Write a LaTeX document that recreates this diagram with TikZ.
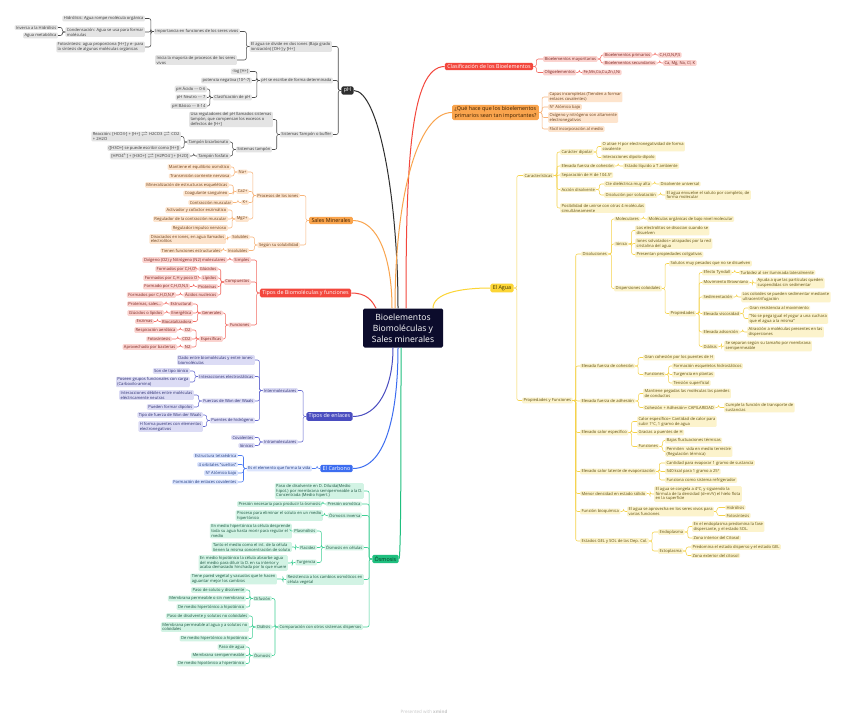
\documentclass[tikz,border=0pt]{standalone}
\usepackage{fontspec}
\setmainfont{Open Sans}
\newcommand\fs{\fontsize{4.1}{4.9}\selectfont}
\newcommand\mfs{\fontsize{5.4}{6.4}\selectfont}
\newcommand\cfs{\fontsize{8.6}{11}\selectfont}
\newcommand\eqv{$\rightleftharpoons$}
\definecolor{centerC}{HTML}{0C0C2C}
\definecolor{phM}{HTML}{2E2E2E}\definecolor{phF}{HTML}{E4E4E4}\definecolor{phT}{HTML}{3A3A3A}\definecolor{phL}{HTML}{4A4A4A}
\definecolor{orM}{HTML}{F9A44D}\definecolor{orF}{HTML}{FDE4CD}\definecolor{orT}{HTML}{6A3F1A}\definecolor{orL}{HTML}{F7B47A}\definecolor{orMT}{HTML}{3B1F00}
\definecolor{reM}{HTML}{F3473D}\definecolor{reF}{HTML}{FBD3CF}\definecolor{reT}{HTML}{7A2520}\definecolor{reL}{HTML}{F26A62}
\definecolor{inM}{HTML}{4A4DC0}\definecolor{inF}{HTML}{DCDCF5}\definecolor{inT}{HTML}{2B2D70}\definecolor{inL}{HTML}{6266CF}
\definecolor{blM}{HTML}{3C6DF0}\definecolor{blF}{HTML}{DBE4FD}\definecolor{blT}{HTML}{1F3A80}\definecolor{blL}{HTML}{4C7BF2}
\definecolor{grM}{HTML}{1FBF7F}\definecolor{grF}{HTML}{D2F3E4}\definecolor{grT}{HTML}{1A5540}\definecolor{grL}{HTML}{3FCF95}\definecolor{grMT}{HTML}{063A22}
\definecolor{yeM}{HTML}{FCD535}\definecolor{yeF}{HTML}{FCF3CC}\definecolor{yeT}{HTML}{5E4E10}\definecolor{yeL}{HTML}{F5D24A}\definecolor{yeMT}{HTML}{3B3000}
\colorlet{lfill}{phF}\colorlet{ltext}{phT}\colorlet{lline}{phL}
\newcommand\lnkL[2]{\foreach \ch in {#2}{\draw[ln] (#1.west) -- ++(-3,0) |- (\ch.east);}}
\newcommand\lnkR[2]{\foreach \ch in {#2}{\draw[ln] (#1.east) -- ++(3,0) |- (\ch.west);}}
\tikzset{
 lf/.style={fill=lfill, text=ltext, rounded corners=1.2pt, inner xsep=1.4pt, inner ysep=0.9pt, font=\fs, align=left},
 L/.style={lf, anchor=east},
 R/.style={lf, anchor=west},
 ln/.style={draw=lline, line width=0.55pt, rounded corners=2pt},
 mn/.style={rounded corners=1.5pt, font=\mfs, inner xsep=2.4pt, inner ysep=1.6pt, align=left},
 br/.style={line width=1pt}
}
\begin{document}
\begin{tikzpicture}[x=1pt,y=-1pt]
\useasboundingbox (0,0) rectangle (848,720);
\fill[white] (0,0) rectangle (848,720);
\node[fill=centerC, text=white, rounded corners=1.5pt, font=\cfs, align=center, minimum width=80pt, minimum height=39pt, inner sep=1pt] (C) at (403,328) {Bioelementos\\Biomoléculas y\\Sales minerales};

% ---------- pH ----------
\begin{scope}
\colorlet{lfill}{phF}\colorlet{ltext}{phT}\colorlet{lline}{phL}
\node[mn, fill=phM, text=white] (pH) at (347.5,90.5) {pH};
\node[L] (pA) at (332,46.5) {El agua se divide en dos iones (Baja grado\\ionización) [OH-] y [H+]};
\node[L] (pA1) at (240,31.5) {Importancia en funciones de los seres vivos};
\node[L] (pA11) at (145,18.5) {Hidrólisis: Agua rompe molécula orgánica};
\node[L] (pA12) at (145,32) {Condensación: Agua se usa para formar\\moléculas};
\node[L] (pA121) at (58,27.5) {Inversa a la Hidrólisis};
\node[L] (pA122) at (58,35.5) {Agua metabólica};
\node[L] (pA13) at (145,47) {Fotosíntesis: agua proporciona [H+] y e- para\\la síntesis de algunas moléculas orgánicas};
\node[L] (pA2) at (237,60) {Inicia la mayoría de procesos de los seres\\vivos};
\node[L] (pB) at (333,80.5) {pH se escribe de forma determinada};
\node[L] (pB1) at (250,71.5) {-log [H+]};
\node[L] (pB2) at (252,80.5) {potencia negativa (10\textasciicircum-7)};
\node[L] (pB3) at (252,97.5) {Clasificación de pH};
\node[L] (pB31) at (207,89) {pH Ácido {-}{-}{-} 0-6};
\node[L] (pB32) at (207,97.5) {pH Neutro {-}{-}{-} 7};
\node[L] (pB33) at (207,106) {pH Básico {-}{-}{-} 8-14};
\node[L] (pC) at (333,134.5) {Sistemas Tampón o buffer};
\node[L] (pC1) at (273,119.5) {Usa reguladores del pH llamados sistemas\\tampón, que compensan los excesos o\\defectos de [H+]};
\node[L] (pC2) at (272,149.5) {Sistemas tampón};
\node[L] (pC21) at (230,142) {Tampón bicarbonato};
\node[L] (pC211) at (181,136.5) {Reacción: [HCO3-] + [H+] \eqv{} H2CO3 \eqv{} CO2\\+ 2H2O};
\node[L] (pC212) at (181,148) {([H3O+] se puede escribir como [H+])};
\node[L] (pC22) at (230,156) {Tampón fosfato};
\node[L] (pC221) at (190,156) {[HPO4\textsuperscript{2-}] + [H3O+] \eqv{} [H2PO4\textsuperscript{-}] + [H2O]};
\lnkL{pH}{pA,pB,pC}
\lnkL{pA}{pA1,pA2}
\lnkL{pA1}{pA11,pA12,pA13}
\lnkL{pA12}{pA121,pA122}
\lnkL{pB}{pB1,pB2,pB3}
\lnkL{pB3}{pB31,pB32,pB33}
\lnkL{pC}{pC1,pC2}
\lnkL{pC2}{pC21,pC22}
\lnkL{pC21}{pC211,pC212}
\lnkL{pC22}{pC221}
\draw[br, draw=phM] (pH.east) .. controls +(25,0) and +(0,-110) .. ([xshift=-5]C.north);
\end{scope}

% ---------- Sales minerales ----------
\begin{scope}
\colorlet{lfill}{orF}\colorlet{ltext}{orT}\colorlet{lline}{orL}
\node[mn, fill=orM, text=orMT] (S) at (331,220.5) {Sales Minerales};
\node[L] (S1) at (300,195.5) {Procesos de los iones};
\node[L] (S11) at (248,172) {Na+};
\node[L] (S111) at (231,167) {Mantiene el equilibrio osmótico};
\node[L] (S112) at (231,176) {Transmisión corriente nerviosa};
\node[L] (S12) at (249,191.5) {Ca2+};
\node[L] (S121) at (229,185) {Mineralización de estructuras esqueléticas};
\node[L] (S122) at (229,193.5) {Coagulante sanguíneo};
\node[L] (S13) at (249,202.5) {K+};
\node[L] (S131) at (233,202.5) {Contracción muscular};
\node[L] (S14) at (249,219) {Mg2+};
\node[L] (S141) at (228,210) {Activador y cofactor enzimático};
\node[L] (S142) at (228,219) {Regulador de la contracción muscular};
\node[L] (S143) at (228,228) {Regulador impulso nervioso};
\node[L] (S2) at (300,245) {Según su solubilidad};
\node[L] (S21) at (250,237) {Solubles};
\node[L] (S211) at (226,239) {Disociados en iones, en agua llamados\\electrolitos};
\node[L] (S22) at (249,250.5) {Insolubles};
\node[L] (S221) at (222,250.5) {Tienen funciones estructurales};
\lnkL{S}{S1,S2}
\lnkL{S1}{S11,S12,S13,S14}
\lnkL{S11}{S111,S112}
\lnkL{S12}{S121,S122}
\lnkL{S13}{S131}
\lnkL{S14}{S141,S142,S143}
\lnkL{S2}{S21,S22}
\lnkL{S21}{S211}
\lnkL{S22}{S221}
\draw[br, draw=orM] (S.east) .. controls +(25,0) and +(0,-50) .. ([xshift=-11]C.north);
\end{scope}

% ---------- Tipos de biomoleculas ----------
\begin{scope}
\colorlet{lfill}{reF}\colorlet{ltext}{reT}\colorlet{lline}{reL}
\node[mn, fill=reM, text=white] (T) at (305.5,293) {Tipos de Biomoléculas y funciones};
\node[L] (T1) at (251,260) {Simples};
\node[L] (T11) at (227,260) {Oxígeno (O2) y Nitrógeno (N2) moleculares};
\node[L] (T2) at (251,282) {Compuestos};
\node[L] (T21) at (218,269) {Glúcidos};
\node[L] (T211) at (197,269) {Formados por C,H,O};
\node[L] (T22) at (218,278) {Lípidos};
\node[L] (T221) at (199,278) {Formados por C,H y poco O};
\node[L] (T23) at (218,286.5) {Proteínas};
\node[L] (T231) at (190,286.5) {Formado por C,H,O,N,S};
\node[L] (T24) at (218,295) {Ácidos nucleicos};
\node[L] (T241) at (176,295) {Formados por C,H,O,N,P};
\node[L] (T3) at (251,325) {Funciones};
\node[L] (T31) at (223,313) {Generales};
\node[L] (T311) at (193,304) {Estructural};
\node[L] (T3111) at (163,304) {Proteínas, sales...};
\node[L] (T312) at (193,313) {Energética};
\node[L] (T3121) at (164,313) {Glúcidos o lípidos};
\node[L] (T313) at (193,321.5) {Biocatalizadora};
\node[L] (T3131) at (154,321.5) {Enzimas};
\node[L] (T32) at (223,339) {Específicas};
\node[L] (T321) at (192,330) {O2};
\node[L] (T3211) at (177,330) {Respiración aeróbica};
\node[L] (T322) at (192,339) {CO2};
\node[L] (T3221) at (172,339) {Fotosíntesis};
\node[L] (T323) at (192,347) {N2};
\node[L] (T3231) at (177,347) {Aprovechado por bacterias};
\lnkL{T}{T1,T2,T3}
\lnkL{T1}{T11}
\lnkL{T2}{T21,T22,T23,T24}
\lnkL{T21}{T211}\lnkL{T22}{T221}\lnkL{T23}{T231}\lnkL{T24}{T241}
\lnkL{T3}{T31,T32}
\lnkL{T31}{T311,T312,T313}
\lnkL{T311}{T3111}\lnkL{T312}{T3121}\lnkL{T313}{T3131}
\lnkL{T32}{T321,T322,T323}
\lnkL{T321}{T3211}\lnkL{T322}{T3221}\lnkL{T323}{T3231}
\draw[br, draw=reM] (T.east) .. controls +(15,0) and +(-4,-8) .. ([xshift=-27]C.north);
\end{scope}

% ---------- Tipos de enlaces ----------
\begin{scope}
\colorlet{lfill}{inF}\colorlet{ltext}{inT}\colorlet{lline}{inL}
\node[mn, fill=inM, text=white] (E) at (329.5,416.5) {Tipos de enlaces};
\node[L] (E1) at (298,390.5) {Intermoleculares};
\node[L] (E11) at (255,360) {Dado entre biomoléculas y entre iones-\\biomoléculas};
\node[L] (E12) at (255,376.5) {Interacciones electrostáticas};
\node[L] (E121) at (190,371) {Son de tipo iónico};
\node[L] (E122) at (190,382) {Poseen grupos funcionales con carga\\(Carboxilo-amino)};
\node[L] (E13) at (255,401) {Fuerzas de Wan der Waals};
\node[L] (E131) at (194,395) {Interacciones débiles entre moléculas\\eléctricamente neutras};
\node[L] (E132) at (194,407) {Pueden formar dipolos};
\node[L] (E14) at (255,420.5) {Puentes de hidrógeno};
\node[L] (E141) at (203,415) {Tipo de fuerza de Wan der Waals};
\node[L] (E142) at (203,426.5) {H forma puentes con elementos\\electronegativos};
\node[L] (E2) at (298,442) {Intramoleculares};
\node[L] (E21) at (255,437.5) {Covalentes};
\node[L] (E22) at (255,445.5) {Iónicos};
\lnkL{E}{E1,E2}
\lnkL{E1}{E11,E12,E13,E14}
\lnkL{E12}{E121,E122}
\lnkL{E13}{E131,E132}
\lnkL{E14}{E141,E142}
\lnkL{E2}{E21,E22}
\draw[br, draw=inM] (E.east) .. controls +(25,0) and +(0,40) .. ([xshift=-10]C.south);
\end{scope}

% ---------- El Carbono ----------
\begin{scope}
\colorlet{lfill}{blF}\colorlet{ltext}{blT}\colorlet{lline}{blL}
\node[mn, fill=blM, text=white] (K) at (336.5,468.5) {El Carbono};
\node[L] (K1) at (312,468.5) {Es el elemento que forma la vida};
\node[L] (K11) at (238,455.5) {Estructura tetraédrica};
\node[L] (K12) at (238,464.5) {4 orbitales "sueltos"};
\node[L] (K13) at (238,473) {Nº Atómico bajo};
\node[L] (K14) at (238,482) {Formación de enlaces covalentes};
\lnkL{K}{K1}
\lnkL{K1}{K11,K12,K13,K14}
\draw[br, draw=blM] (K.east) .. controls +(35,0) and +(0,60) .. ([xshift=-5]C.south);
\end{scope}

% ---------- Osmosis ----------
\begin{scope}
\colorlet{lfill}{grF}\colorlet{ltext}{grT}\colorlet{lline}{grL}
\node[mn, fill=grM, text=grMT] (O) at (385.5,559) {Ósmosis};
\node[L] (O1) at (364,491) {Paso de disolvente en D. Diluida(Medio\\hipot.) por membrana semipermeable a la D.\\Concentrada (Medio hipert.)};
\node[L] (O2) at (362,504) {Presión osmótica};
\node[L] (O21) at (322,504) {Presión necesaria para producir la ósmosis};
\node[L] (O3) at (362,515.5) {Ósmosis inversa};
\node[L] (O31) at (323,515.5) {Proceso para eliminar el soluto en un medio\\hipertónico};
\node[L] (O4) at (364,547.5) {Ósmosis en células};
\node[L] (O41) at (317,531) {Plasmólisis};
\node[L] (O411) at (292,531) {En medio hipertónico la célula desprende\\toda su agua hasta morir para regular el\\medio};
\node[L] (O42) at (317,547.5) {Flacidez};
\node[L] (O421) at (292,547) {Tanto el medio como el int. de la célula\\tienen la misma concentración de soluto};
\node[L] (O43) at (317,562.5) {Turgencia};
\node[L] (O431) at (288,563) {En medio hipotónico la célula absorbe agua\\del medio para diluir la D. en su interior y\\acaba demasiado hinchada por lo que muere};
\node[L] (O5) at (364,579.5) {Resistencia a los cambios osmóticos en\\célula vegetal};
\node[L] (O51) at (277,579) {Tiene pared vegetal y vacuolas que le hacen\\aguantar mejor los cambios};
\node[L] (O6) at (363,627) {Comparación con otros sistemas dispersos};
\node[L] (O61) at (272,598.5) {Difusión};
\node[L] (O611) at (246,590) {Paso de soluto y disolvente};
\node[L] (O612) at (246,598.5) {Membrana permeable o sin membrana};
\node[L] (O613) at (246,607) {De medio hipertónico a hipotónico};
\node[L] (O62) at (272,627) {Diálisis};
\node[L] (O621) at (249,616) {Paso de disolvente y solutos no coloidales};
\node[L] (O622) at (249,627) {Membrana permeable al agua y a solutos no\\coloidales};
\node[L] (O623) at (249,638.5) {De medio hipertónico a hipotónico};
\node[L] (O63) at (272,655.5) {Ósmosis};
\node[L] (O631) at (246,647) {Paso de agua};
\node[L] (O632) at (246,655.5) {Membrana semipermeable};
\node[L] (O633) at (246,663.5) {De medio hipotónico a hipertónico};
\lnkL{O}{O1,O2,O3,O4,O5,O6}
\lnkL{O2}{O21}\lnkL{O3}{O31}
\lnkL{O4}{O41,O42,O43}
\lnkL{O41}{O411}\lnkL{O42}{O421}\lnkL{O43}{O431}
\lnkL{O5}{O51}
\lnkL{O6}{O61,O62,O63}
\lnkL{O61}{O611,O612,O613}
\lnkL{O62}{O621,O622,O623}
\lnkL{O63}{O631,O632,O633}
\draw[br, draw=grM] (O.east) .. controls +(2,0) and +(0,120) .. ([xshift=-2]C.south);
\end{scope}

% ---------- Clasificacion ----------
\begin{scope}
\colorlet{lfill}{reF}\colorlet{ltext}{reT}\colorlet{lline}{reL}
\node[mn, fill=reM, text=white] (CL) at (489,66.5) {Clasificación de los Bioelementos};
\node[R] (CL1) at (543,59) {Bioelementos mayoritarios};
\node[R] (CL11) at (603,55) {Bioelementos primarios};
\node[R] (CL111) at (658,55) {C,H,O,N,P,S};
\node[R] (CL12) at (603,63) {Bioelementos secundarios};
\node[R] (CL121) at (663,63) {Ca, Mg, Na, Cl, K};
\node[R] (CL2) at (543,72.5) {Oligoelementos};
\node[R] (CL21) at (582,72.5) {Fe,Mn,Co,Cu,Zn,I,Ni};
\lnkR{CL}{CL1,CL2}
\lnkR{CL1}{CL11,CL12}
\lnkR{CL11}{CL111}\lnkR{CL12}{CL121}\lnkR{CL2}{CL21}
\draw[br, draw=reM] (CL.west) .. controls +(-35,0) and +(0,-140) .. ([xshift=3]C.north);
\end{scope}

% ---------- Que hace ----------
\begin{scope}
\colorlet{lfill}{orF}\colorlet{ltext}{orT}\colorlet{lline}{orL}
\node[mn, fill=orM, text=orMT] (Q) at (495.5,112.5) {¿Qué hace que los bioelementos\\primarios sean tan importantes?};
\node[R] (Q1) at (548,97) {Capas incompletas (Tienden a formar\\enlaces covalentes)};
\node[R] (Q2) at (548,107) {Nº Atómico bajo};
\node[R] (Q3) at (548,117.5) {Oxígeno y nitrógeno son altamente\\electronegativos};
\node[R] (Q4) at (548,129) {Fácil incorporación al medio};
\lnkR{Q}{Q1,Q2,Q3,Q4}
\draw[br, draw=orM] (Q.west) .. controls +(-35,0) and +(0,-110) .. ([xshift=-8]C.north);
\end{scope}

% ---------- El Agua ----------
\begin{scope}
\colorlet{lfill}{yeF}\colorlet{ltext}{yeT}\colorlet{lline}{yeL}
\node[mn, fill=yeM, text=yeMT] (A) at (502,288) {El Agua};
\node[R] (A1) at (523,175.5) {Características};
\node[R] (A11) at (560,152) {Carácter dipolar};
\node[R] (A111) at (601,146.5) {O atrae H por electronegatividad de forma\\covalente};
\node[R] (A112) at (601,157.5) {Interacciones dipolo-dipolo};
\node[R] (A12) at (560,166) {Elevada fuerza de cohesión};
\node[R] (A121) at (623,166) {Estado líquido a T ambiente};
\node[R] (A13) at (560,175) {Separación de H de 104.5º};
\node[R] (A14) at (560,189.5) {Acción disolvente};
\node[R] (A141) at (604,184) {Cte dieléctrica muy alta};
\node[R] (A1411) at (659,184) {Disolvente universal};
\node[R] (A142) at (604,195) {Disolución por solvatación};
\node[R] (A1421) at (665,195) {El agua envuelve el soluto por completo, de\\forma molecular};
\node[R] (A15) at (560,208) {Posibilidad de unirse con otras 4 moléculas\\simultáneamente};
\node[R] (A2) at (522,400.5) {Propiedades y Funciones};
\node[R] (A21) at (581,254) {Disoluciones};
\node[R] (A211) at (614,219) {Moleculares};
\node[R] (A2111) at (647,219) {Moléculas orgánicas de bajo nivel molecular};
\node[R] (A212) at (614,244) {Iónica};
\node[R] (A2121) at (635,230.5) {Los electrolitos se disocian cuando se\\disuelven};
\node[R] (A2122) at (635,243.5) {Iones solvatados= atrapados por la red\\cristalina del agua};
\node[R] (A2123) at (635,254.5) {Presentan propiedades coligativas};
\node[R] (A213) at (614,288.5) {Dispersiones coloidales};
\node[R] (A2131) at (669,263.5) {Solutos muy pesados que no se disuelven};
\node[R] (A2132) at (669,313.5) {Propiedades};
\node[R] (P1) at (702,272.5) {Efecto Tyndall};
\node[R] (P11) at (739,272.5) {Turbidez al ser iluminada lateralmente};
\node[R] (P2) at (702,282.5) {Movimiento Browniano};
\node[R] (P21) at (756,283) {Ayuda a que las partículas queden\\suspendidas sin sedimentar};
\node[R] (P3) at (702,297) {Sedimentación};
\node[R] (P31) at (741,297) {Los coloides se pueden sedimentar mediante\\ultracentrifugación};
\node[R] (P4) at (702,313.5) {Elevada viscosidad};
\node[R] (P41) at (748,308) {Gran resistencia al movimiento};
\node[R] (P42) at (748,318.5) {"No se pega igual el yogur a una cuchara\\que el agua a la misma"};
\node[R] (P5) at (702,332) {Elevada adsorción};
\node[R] (P51) at (747,332) {Atracción a moléculas presentes en las\\dispersiones};
\node[R] (P6) at (702,346.5) {Diálisis};
\node[R] (P61) at (724,346) {Se separan según su tamaño por membrana\\semipermeable};
\node[R] (A22) at (580,366) {Elevada fuerza de cohesión};
\node[R] (A221) at (643,357.5) {Gran cohesión por los puentes de H};
\node[R] (A222) at (643,374.5) {Funciones};
\node[R] (A2221) at (672,366) {Formación esqueletos hidrostáticos};
\node[R] (A2222) at (672,374.5) {Turgencia en plantas};
\node[R] (A2223) at (672,383) {Tensión superficial};
\node[R] (A23) at (580,401) {Elevada fuerza de adhesión};
\node[R] (A231) at (643,393.5) {Mantiene pegadas las moléculas las paredes\\de conductos};
\node[R] (A232) at (643,407.5) {Cohesión + Adhesión= CAPILARIDAD};
\node[R] (A2321) at (724,407.5) {Cumple la función de transporte de\\sustancias};
\node[R] (A24) at (580,432.5) {Elevado calor específico};
\node[R] (A241) at (637,421.5) {Calor específico= Cantidad de calor para\\subir 1ºC, 1 gramo de agua};
\node[R] (A242) at (637,432.5) {Gracias a puentes de H};
\node[R] (A243) at (637,446.5) {Funciones};
\node[R] (A2431) at (665,440.5) {Bajas fluctuaciones térmicas};
\node[R] (A2432) at (665,451.5) {Permiten\ \ vida en medio terrestre\\(Regulación térmica)};
\node[R] (A25) at (580,471.5) {Elevado calor latente de evaporización};
\node[R] (A251) at (665,463) {Cantidad para evaporar 1 gramo de sustancia};
\node[R] (A252) at (665,471.5) {540 kcal para 1 gramo a 25º};
\node[R] (A253) at (665,480) {Funciona como sistema refrigerador};
\node[R] (A26) at (580,493.5) {Menor densidad en estado sólido};
\node[R] (A261) at (654,494) {El agua se congela a 4ºC, y siguiendo la\\fórmula de la densidad (d=m/V) el hielo flota\\en la superficie};
\node[R] (A27) at (580,511.5) {Función bioquímica};
\node[R] (A271) at (627,511.5) {El agua se aprovecha en los seres vivos para\\varias funciones};
\node[R] (A2711) at (725,507.5) {Hidrólisis};
\node[R] (A2712) at (725,515.5) {Fotosíntesis};
\node[R] (A28) at (580,541) {Estados GEL y SOL de las Dep. Col.};
\node[R] (A281) at (658,532) {Endoplasma};
\node[R] (A2811) at (692,526.5) {En el endoplasma predomina la fase\\dispersante, y el estado SOL.};
\node[R] (A2812) at (692,538) {Zona interior del Citosol};
\node[R] (A282) at (658,551) {Ectoplasma};
\node[R] (A2821) at (691,547) {Predomina el estado disperso y el estado GEL};
\node[R] (A2822) at (691,555.5) {Zona exterior del citosol};
\lnkR{A}{A1,A2}
\lnkR{A1}{A11,A12,A13,A14,A15}
\lnkR{A11}{A111,A112}
\lnkR{A12}{A121}
\lnkR{A14}{A141,A142}
\lnkR{A141}{A1411}\lnkR{A142}{A1421}
\lnkR{A2}{A21,A22,A23,A24,A25,A26,A27,A28}
\lnkR{A21}{A211,A212,A213}
\lnkR{A211}{A2111}
\lnkR{A212}{A2121,A2122,A2123}
\lnkR{A213}{A2131,A2132}
\lnkR{A2132}{P1,P2,P3,P4,P5,P6}
\lnkR{P1}{P11}\lnkR{P2}{P21}\lnkR{P3}{P31}\lnkR{P4}{P41,P42}\lnkR{P5}{P51}\lnkR{P6}{P61}
\lnkR{A22}{A221,A222}
\lnkR{A222}{A2221,A2222,A2223}
\lnkR{A23}{A231,A232}
\lnkR{A232}{A2321}
\lnkR{A24}{A241,A242,A243}
\lnkR{A243}{A2431,A2432}
\lnkR{A25}{A251,A252,A253}
\lnkR{A26}{A261}
\lnkR{A27}{A271}
\lnkR{A271}{A2711,A2712}
\lnkR{A28}{A281,A282}
\lnkR{A281}{A2811,A2812}
\lnkR{A282}{A2821,A2822}
\draw[br, draw=yeM] (A.west) .. controls +(-30,0) and +(0,-15) .. ([xshift=30]C.north);
\end{scope}

\node[text=black!22, font=\fontsize{4.5}{5}\selectfont] (ft) at (424,712) {Presented with \textbf{xmind}};
\end{tikzpicture}
\end{document}
